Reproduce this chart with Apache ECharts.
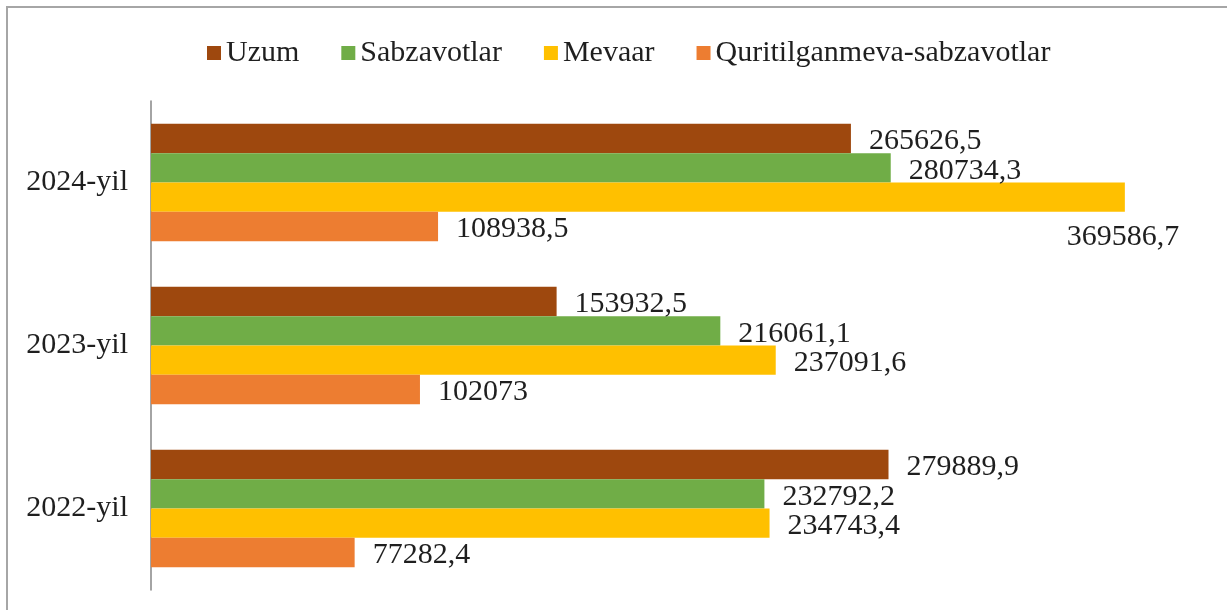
<!DOCTYPE html>
<html>
<head>
<meta charset="utf-8">
<script src="https://cdn.jsdelivr.net/npm/echarts@6/dist/echarts.min.js"></script>
<style>
  html, body { margin: 0; padding: 0; background: #fff; }
  #chart { width: 1227px; height: 610px; }
</style>
</head>
<body>
<div id="chart"></div>
<script>
  // yillar (pastdan yuqoriga)
  const years = ['2022-yil', '2023-yil', '2024-yil'];
  const seriesNames = ['Uzum', 'Sabzavotlar', 'Mevaar', 'Quritilganmeva-sabzavotlar'];
  const uzum = [279889.9, 153932.5, 265626.5];
  const sabzavotlar = [232792.2, 216061.1, 280734.3];
  const mevaar = [234743.4, 237091.6, 369586.7];
  const quritilgan = [77282.4, 102073, 108938.5];
  const colors = ['#9E480E', '#70AD47', '#FFC000', '#ED7D31'];

  const font = '"Liberation Serif", "Times New Roman", serif';
  const allData = [uzum, sabzavotlar, mevaar, quritilgan];

  // vergul bilan yozish: 265626,5
  const fmt = v => String(v).replace('.', ',');

  const chart = echarts.init(document.getElementById('chart'));

  const series = seriesNames.map((name, i) => ({
    name: name,
    type: 'bar',
    barGap: '0%',
    barCategoryGap: '28%',
    itemStyle: { color: colors[i] },
    label: {
      show: true,
      position: 'right',
      distance: 18,
      color: '#1f1f1f',
      fontFamily: font,
      fontSize: 30,
      offset: [0, 3],
      formatter: p => fmt(p.value)
    },
    data: allData[i].map((v, j) => {
      // 2024 Mevaar yorlig'i chegaraga sig'maydi, pastga tushirilgan
      if (i === 2 && j === 2) {
        return { value: v, label: { offset: [-76, 40] } };
      }
      return v;
    })
  }));

  chart.setOption({
    animation: false,
    backgroundColor: '#fff',
    graphic: [{
      type: 'rect',
      shape: { x: 7, y: 7, width: 1240, height: 620 },
      style: { fill: 'none', stroke: '#a6a6a6', lineWidth: 2 },
      silent: true
    }],
    legend: {
      top: 33,
      left: 202,
      itemWidth: 14,
      itemHeight: 14,
      itemGap: 42,
      icon: 'rect',
      textStyle: { fontFamily: font, fontSize: 30, color: '#1f1f1f' },
      data: seriesNames
    },
    grid: {
      left: 151,
      right: 22,
      top: 101,
      bottom: 20,
      containLabel: false
    },
    xAxis: {
      type: 'value',
      min: 0,
      max: 400000,
      show: false
    },
    yAxis: {
      type: 'category',
      data: years,
      axisLine: { show: true, lineStyle: { color: '#868686', width: 1.5 } },
      axisTick: { show: false },
      axisLabel: {
        margin: 23,
        fontFamily: font,
        fontSize: 30,
        color: '#1f1f1f'
      },
      splitLine: { show: false }
    },
    series: series
  });

  window.onresize = function () {
    chart.resize();
  };
</script>
</body>
</html>
